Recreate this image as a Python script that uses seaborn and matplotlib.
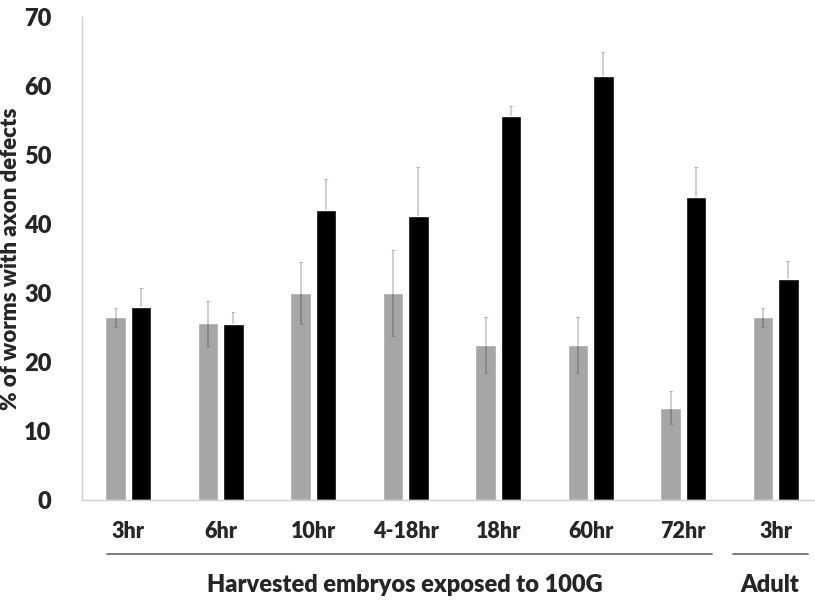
import matplotlib
matplotlib.use("Agg")
import matplotlib.pyplot as plt
import matplotlib.transforms as mtransforms
import seaborn as sns
import pandas as pd

# values
conditions = ["3hr", "6hr", "10hr", "4-18hr", "18hr", "60hr", "72hr", "Adult 3hr"]
tick_labels = ["3hr", "6hr", "10hr", "4-18hr", "18hr", "60hr", "72hr", "3hr"]
series = ["control", "exposed"]
control_mean = [26.5, 25.6, 30.0, 30.0, 22.5, 22.5, 13.4, 26.5]
control_err = [1.4, 3.3, 4.5, 6.2, 4.1, 4.1, 2.4, 1.4]
exposed_mean = [28.0, 25.5, 42.0, 41.2, 55.6, 61.4, 43.9, 32.0]
exposed_err = [2.7, 1.7, 4.5, 7.0, 1.5, 3.6, 4.4, 2.7]
y_ticks = [0, 10, 20, 30, 40, 50, 60, 70]

df = pd.DataFrame({
    "condition": conditions * 2,
    "series": [series[0]] * len(conditions) + [series[1]] * len(conditions),
    "value": control_mean + exposed_mean,
    "err": control_err + exposed_err,
})

sns.set_style("white")
plt.rcParams["font.family"] = ["Lato", "DejaVu Sans"]
plt.rcParams["font.weight"] = "bold"

fig = plt.figure(figsize=(8.15, 6.01), dpi=100)
ax = fig.add_axes([0.1006, 0.168, 0.908, 0.8036])

sns.barplot(data=df, x="condition", y="value", hue="series", order=conditions,
            hue_order=series, palette=["#a6a6a6", "#000000"], errorbar=None,
            width=0.55, gap=0.18, saturation=1, legend=False, ax=ax)
for p in ax.patches:
    p.set_zorder(2)

# error bars on the bar centres seaborn drew; black bars hide their lower half
bars = [p for p in ax.patches if p.get_height() > 0]
for bar, (_, row) in zip(bars, df.iterrows()):
    xc = bar.get_x() + bar.get_width() / 2
    z = 3 if row["series"] == "control" else 1
    ax.errorbar(xc, row["value"], yerr=row["err"], fmt="none",
                ecolor=(0, 0, 0, 0.22), elinewidth=1.2, capsize=1.5,
                capthick=0.6, zorder=z)

ax.set_xlim(-0.5, 7.5)
ax.set_ylim(0, 70)
ax.set_yticks(y_ticks)
ax.set_yticklabels([str(t) for t in y_ticks], fontsize=17, fontweight="heavy")
ax.set_xticks(range(len(conditions)))
ax.set_xticklabels(tick_labels, fontsize=15.5, fontweight="heavy")
ax.tick_params(axis="both", length=0)
ax.tick_params(axis="x", pad=15)
ax.tick_params(axis="y", pad=22)
ax.set_xlabel("")
ax.set_ylabel("% of worms with axon defects", fontsize=16, fontweight="heavy", labelpad=2)

for side in ["top", "right"]:
    ax.spines[side].set_visible(False)
for side in ["left", "bottom"]:
    ax.spines[side].set_color("#d0d0d0")
    ax.spines[side].set_linewidth(1)

# group brackets under the axis
trans = mtransforms.blended_transform_factory(ax.transData, ax.transAxes)
ax.plot([-0.23, 6.31], [-0.112, -0.112], color="#707070", lw=1.3, transform=trans, clip_on=False)
ax.plot([6.54, 7.35], [-0.112, -0.112], color="#707070", lw=1.3, transform=trans, clip_on=False)
ax.text(2.99, -0.176, "Harvested embryos exposed to 100G", transform=trans,
        ha="center", va="center", fontsize=17, fontweight="heavy")
ax.text(6.94, -0.176, "Adult", transform=trans,
        ha="center", va="center", fontsize=17, fontweight="heavy")

fig.savefig("out.png", dpi=100)
